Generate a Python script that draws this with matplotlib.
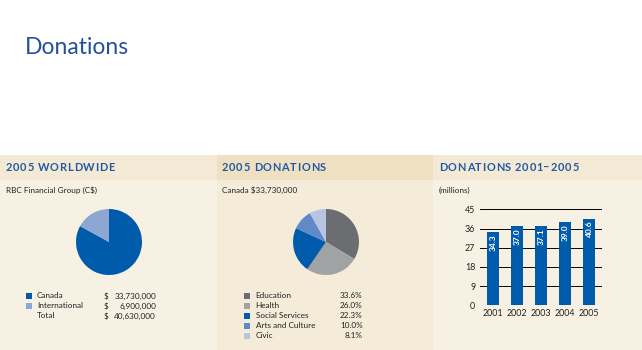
import matplotlib
matplotlib.use("Agg")
import matplotlib.pyplot as plt
from matplotlib.patches import Rectangle

# ---------------- data ----------------
title = "Donations"
panel_titles = ["2005 WORLDWIDE", "2005 DONATIONS", "DONATIONS 2001\u20132005"]
panel_subtitles = ["RBC Financial Group (C$)", "Canada $33,730,000", "(millions)"]

world_labels = ["Canada", "International"]
world_values = [33730000, 6900000]
world_total_label = "Total"
world_total = 40630000
world_colors = ["#005bab", "#8da6d4"]

don_labels = ["Education", "Health", "Social Services", "Arts and Culture", "Civic"]
don_values = [33.6, 26.0, 22.3, 10.0, 8.1]
don_colors = ["#6c6d70", "#a1a2a4", "#005bab", "#6089c8", "#b7c5e3"]

years = ["2001", "2002", "2003", "2004", "2005"]
amounts = [34.3, 37.0, 37.1, 39.0, 40.6]
yticks = [0, 9, 18, 27, 36, 45]
bar_color = "#005bab"

FONT = "Lato"
BLUE_T = "#1f5aa6"
W, H = 642, 350

fig = plt.figure(figsize=(W / 100, H / 100), dpi=100)
fig.patch.set_facecolor("white")

bg = fig.add_axes([0, 0, 1, 1])
bg.set_xlim(0, W)
bg.set_ylim(H, 0)
bg.axis("off")


def px_axes(x, y, w, h):
    return fig.add_axes([x / W, 1 - (y + h) / H, w / W, h / H])


# panel backgrounds
panels = [(0, 217, "#f3e9d4", "#f7f1e4"),
          (217, 433, "#efe0c2", "#f4ebd9"),
          (433, W, "#f3e9d4", "#f7f1e4")]
for x0, x1, hc, bc in panels:
    bg.add_patch(Rectangle((x0, 155), x1 - x0, 25, facecolor=hc, edgecolor="none"))
    bg.add_patch(Rectangle((x0, 180), x1 - x0, H - 180, facecolor=bc, edgecolor="none"))

# main title
bg.text(25, 47, title, fontsize=16.5, color="#24509c", family=FONT,
        va="center", ha="left")

renderer = fig.canvas.get_renderer()


def tracked_text(x, y, s, track=1.0, **kw):
    # place each character at the natural advance of the prefix + extra tracking
    probe = bg.text(0, 0, "", **kw)
    for i, ch in enumerate(s):
        prefix = s[:i]
        if prefix:
            probe.set_text(prefix + "|")
            w_pref = probe.get_window_extent(renderer).width
            probe.set_text("|")
            w_bar = probe.get_window_extent(renderer).width
            adv = w_pref - w_bar
        else:
            adv = 0
        if ch != " ":
            bg.text(x + adv + i * track, y, ch, **kw)
    probe.remove()


hdr_x = [6, 222, 439]
for hx, pt in zip(hdr_x, panel_titles):
    tracked_text(hx, 167.5, pt, track=0.75, fontsize=7.9, fontweight="bold",
                 color=BLUE_T, family=FONT, va="center", ha="left")
for hx, st in zip(hdr_x, panel_subtitles):
    bg.text(hx, 190, st, fontsize=5.9, color="#222222", family=FONT,
            va="center", ha="left")

# ---------- left pie ----------
r = 33
axp = px_axes(109 - r, 242 - r, 2 * r, 2 * r)
axp.pie(world_values, colors=world_colors, startangle=90, counterclock=False,
        wedgeprops=dict(linewidth=0))
axp.set_xlim(-1, 1)
axp.set_ylim(-1, 1)
axp.set_aspect("equal")
axp.axis("off")

small = dict(fontsize=5.9, color="#222222", family=FONT, va="center")
for i, (lab, val) in enumerate(zip(world_labels + [world_total_label],
                                   world_values + [world_total])):
    yy = 296 + 10 * i
    if i < len(world_colors):
        bg.add_patch(Rectangle((26, yy - 3), 6, 6, facecolor=world_colors[i],
                               edgecolor="none"))
    bg.text(37, yy, lab, ha="left", **small)
    bg.text(103.5, yy, "$", ha="left", **small)
    bg.text(156, yy, f"{val:,}", ha="right", **small)

# ---------- middle pie ----------
axq = px_axes(326 - r, 242 - r, 2 * r, 2 * r)
axq.pie(don_values, colors=don_colors, startangle=90, counterclock=False,
        wedgeprops=dict(linewidth=0))
axq.set_xlim(-1, 1)
axq.set_ylim(-1, 1)
axq.set_aspect("equal")
axq.axis("off")

for i, (lab, val) in enumerate(zip(don_labels, don_values)):
    yy = 296 + 10 * i
    bg.add_patch(Rectangle((244.3, yy - 3), 6, 6, facecolor=don_colors[i],
                           edgecolor="none"))
    bg.text(255.5, yy, lab, ha="left", **small)
    bg.text(362.5, yy, f"{val:.1f}%", ha="right", **small)

# ---------- bar chart ----------
axb = px_axes(480, 209.3, 122, 96)
axb.set_facecolor("none")
xs = list(range(len(years)))
axb.bar(xs, amounts, width=0.5, color=bar_color, zorder=3, linewidth=0)
axb.set_xlim(-0.54, 4.54)
axb.set_ylim(0, 45)
axb.set_yticks(yticks)
axb.set_yticklabels([str(v) for v in yticks])
axb.set_xticks(xs)
axb.set_xticklabels(years)
axb.grid(axis="y", color="black", linewidth=0.7, zorder=1)
axb.set_axisbelow(True)
for s in axb.spines.values():
    s.set_visible(False)
axb.tick_params(axis="both", length=0, labelsize=6.4, labelcolor="#222222")
axb.tick_params(axis="y", pad=3.5)
axb.tick_params(axis="x", pad=3.0)
for lbl in axb.get_xticklabels() + axb.get_yticklabels():
    lbl.set_family(FONT)
for x, v in zip(xs, amounts):
    axb.text(x, v - 1.0, f"{v:.1f}", rotation=90, ha="center", va="top",
             color="white", fontsize=6.0, fontweight="bold", family=FONT, zorder=4)

fig.savefig("out.png", dpi=100, facecolor=fig.get_facecolor())
